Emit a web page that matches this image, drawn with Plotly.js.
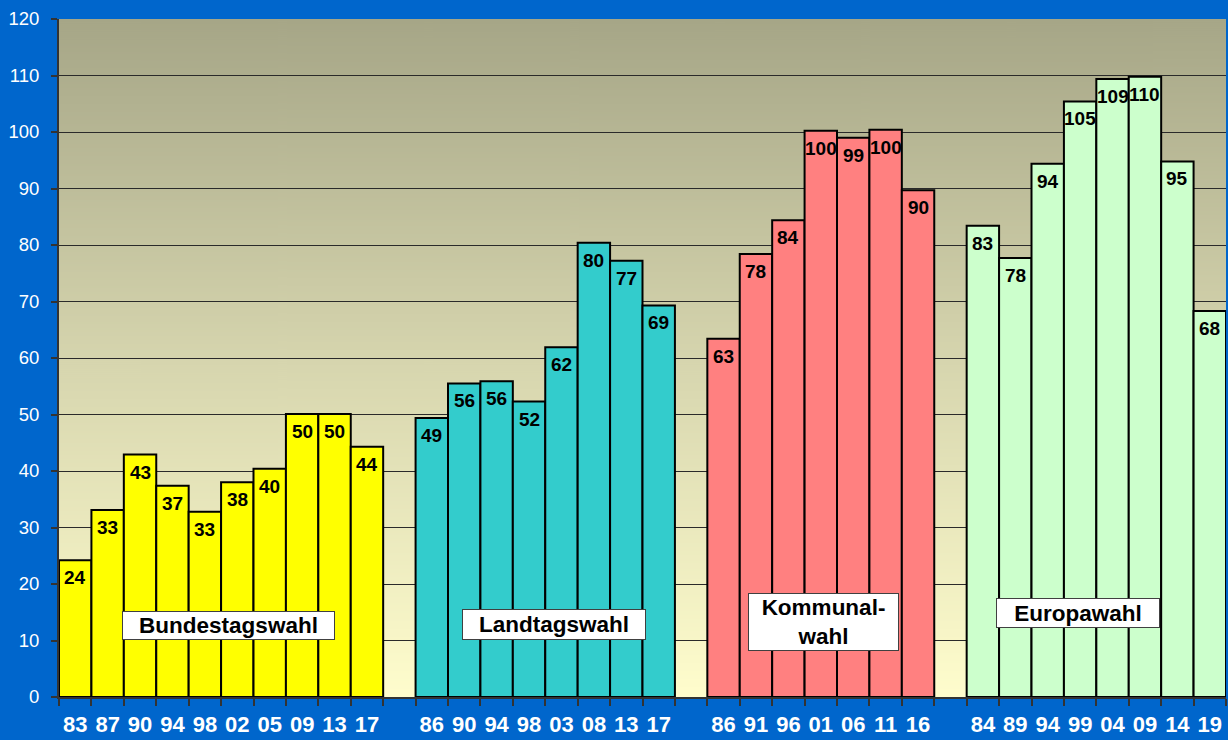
<!DOCTYPE html>
<html>
<head>
<meta charset="utf-8">
<script src="https://cdn.plot.ly/plotly-3.0.1.min.js"></script>
<style>
html,body{margin:0;padding:0;background:#0066CC;}
#chart{width:1228px;height:740px;}
</style>
</head>
<body>
<div id="chart"></div>
<script>
// ---- data ----
const bundYears  = ['83','87','90','94','98','02','05','09','13','17'];
const bundValues = [24.2, 33.1, 42.9, 37.4, 32.8, 38.0, 40.4, 50.1, 50.1, 44.3];
const landYears  = ['86','90','94','98','03','08','13','17'];
const landValues = [49.4, 55.5, 55.9, 52.3, 61.9, 80.4, 77.2, 69.3];
const kommYears  = ['86','91','96','01','06','11','16'];
const kommValues = [63.4, 78.4, 84.4, 100.2, 99.0, 100.4, 89.7];
const euroYears  = ['84','89','94','99','04','09','14','19'];
const euroValues = [83.4, 77.7, 94.4, 105.4, 109.4, 109.8, 94.8, 68.3];
const groupNames = ['Bundestagswahl', 'Landtagswahl', 'Kommunal-<br>wahl', 'Europawahl'];
const yTicks = [0,10,20,30,40,50,60,70,80,90,100,110,120];

// ---- styles ----
const FONT = 'Liberation Sans, Arial, sans-serif';
const colors = ['#FFFF00', '#33CCCC', '#FF8080', '#CCFFCC'];
const starts = [0, 11, 20, 28];
const nSlots = 36;
// label boxes: [x-center (slot units), y-center (value units), width px, height px]
const boxPos = [[4.73, 12.65, 211, 27], [14.78, 12.9, 182, 29], [23.07, 13.3, 149, 56], [30.92, 14.9, 162, 28]];

const years = [bundYears, landYears, kommYears, euroYears];
const values = [bundValues, landValues, kommValues, euroValues];

// gradient background for plot area
const cv = document.createElement('canvas');
cv.width = 8; cv.height = 680;
const ctx = cv.getContext('2d');
const g = ctx.createLinearGradient(0, 0, 0, 680);
g.addColorStop(0, '#A6A687');
g.addColorStop(0.5, '#D6D5AE');
g.addColorStop(1, '#FFFDCD');
ctx.fillStyle = g; ctx.fillRect(0, 0, 8, 680);
const bgUrl = cv.toDataURL('image/png');

const traces = [];
const annotations = [];
const tickvals = [];
const ticktext = [];
for (let gi = 0; gi < 4; gi++) {
  const xs = years[gi].map((_, i) => starts[gi] + i);
  traces.push({
    type: 'bar', x: xs, y: values[gi], width: 1,
    marker: {color: colors[gi], line: {color: '#000000', width: 2}},
    hoverinfo: 'skip'
  });
  xs.forEach((x, i) => {
    tickvals.push(x); ticktext.push(years[gi][i]);
    annotations.push({
      x: x, y: values[gi][i], xref: 'x', yref: 'y',
      text: String(Math.round(values[gi][i])),
      showarrow: false, yanchor: 'top', yshift: -5,
      font: {family: FONT, size: 19, color: '#000', weight: 'bold'}
    });
  });
  const b = boxPos[gi];
  annotations.push({
    x: b[0], y: b[1], xref: 'x', yref: 'y', text: groupNames[gi],
    showarrow: false, xanchor: 'center', yanchor: 'middle',
    width: b[2], height: b[3], align: 'center', valign: 'middle',
    bgcolor: '#FFFFFF', bordercolor: '#404040', borderwidth: 1, borderpad: 0,
    font: {family: FONT, size: 22.5, color: '#000', weight: 'bold'}
  });
}

const layout = {
  width: 1228, height: 740,
  margin: {l: 59, r: 2, t: 19, b: 43, pad: 0},
  paper_bgcolor: '#0066CC', plot_bgcolor: '#FFFDCD',
  showlegend: false, barmode: 'overlay',
  images: [{source: bgUrl, xref: 'paper', yref: 'paper', x: 0, y: 1, sizex: 1, sizey: 1,
            xanchor: 'left', yanchor: 'top', sizing: 'stretch', layer: 'below'}],
  xaxis: {
    range: [-0.5, nSlots - 0.5], tickmode: 'array', tickvals: tickvals, ticktext: ticktext,
    ticks: 'outside', ticklen: 7, tickcolor: 'rgba(0,0,0,0)', ticklabelstandoff: 0,
    tickfont: {family: FONT, size: 22, color: '#FFFFFF', weight: 'bold'},
    minor: {ticks: 'outside', tick0: -0.5, dtick: 1, ticklen: 7, tickwidth: 2, tickcolor: '#333333', showgrid: false},
    showline: true, linecolor: '#333333', linewidth: 2,
    showgrid: false, zeroline: false, fixedrange: true
  },
  yaxis: {
    range: [0, 120], tickmode: 'array', tickvals: yTicks,
    ticks: 'outside', ticklen: 6, tickwidth: 2, tickcolor: '#333333', ticklabelstandoff: 8,
    tickfont: {family: FONT, size: 18.5, color: '#FFFFFF'},
    showline: true, linecolor: '#333333', linewidth: 2,
    showgrid: true, gridcolor: '#2A2A2A', gridwidth: 1,
    zeroline: false, fixedrange: true
  },
  annotations: annotations
};

Plotly.newPlot('chart', traces, layout, {displayModeBar: false, staticPlot: true});
</script>
</body>
</html>
